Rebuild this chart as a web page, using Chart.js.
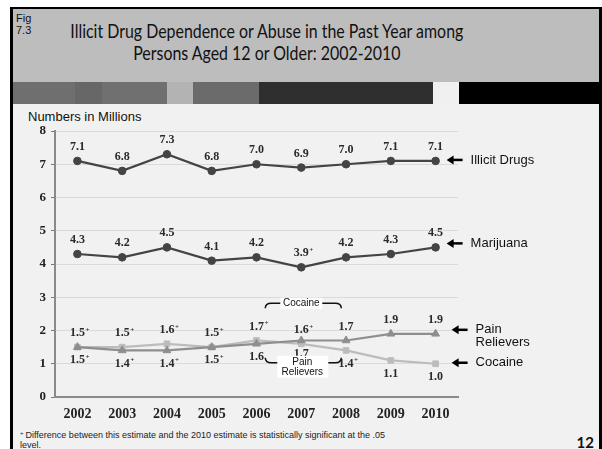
<!DOCTYPE html>
<html>
<head>
<meta charset="utf-8">
<script src="https://cdn.jsdelivr.net/npm/chart.js@4.4.1/dist/chart.umd.min.js"></script>
<style>
  html, body { margin: 0; padding: 0; background: #ffffff; }
  #page { position: relative; width: 602px; height: 449px; overflow: hidden; font-family: "Liberation Sans", Arial, sans-serif; }
  #frame { position: absolute; left: 10px; top: 7px; width: 586px; height: 442px; border-top: 2px solid #000; border-left: 3px solid #000; border-right: 3px solid #000; background: #f1f1f1; }
  #header { position: absolute; left: 13px; top: 9px; width: 586px; height: 73px; background: #bdbdbd; }
  .band { position: absolute; top: 82px; height: 22px; }
  #fig { position: absolute; left: 16px; top: 12px; font-size: 11px; line-height: 12px; color: #111; }
  #title { position: absolute; left: -133px; width: 800px; top: 19px; text-align: center; font-family: Lato, "Noto Sans", sans-serif; font-size: 20px; line-height: 22px; color: #111; white-space: nowrap; }
  #title span { display: inline-block; transform-origin: 50% 50%; }
  #units { position: absolute; left: 28px; top: 109px; font-size: 13px; color: #111; }
  #note { position: absolute; left: 20px; top: 428px; font-size: 9px; line-height: 10px; color: #222; white-space: nowrap; }
  #note sup { font-size: 6px; vertical-align: 3px; margin-right: 2px; }
  #pageno { position: absolute; right: 8px; top: 433px; font-family: Lato, "Noto Sans", sans-serif; font-weight: bold; font-size: 15px; color: #111; }
  #chart { position: absolute; left: 0; top: 0; }
</style>
</head>
<body>
<div id="page">
  <div id="frame"></div>
  <div id="header"></div>
  <div class="band" style="left:13px;width:62px;background:#6f6f6f"></div>
  <div class="band" style="left:75px;width:27px;background:#676767"></div>
  <div class="band" style="left:102px;width:65px;background:#707070"></div>
  <div class="band" style="left:167px;width:26px;background:#b3b3b3"></div>
  <div class="band" style="left:193px;width:66px;background:#6b6b6b"></div>
  <div class="band" style="left:259px;width:174px;background:#2f2f2f"></div>
  <div class="band" style="left:433px;width:26px;background:#f0f0f0"></div>
  <div class="band" style="left:459px;width:143px;background:#000000"></div>
  <div id="fig">Fig<br>7.3</div>
  <div id="title"><span id="t1">Illicit Drug Dependence or Abuse in the Past Year among</span><br><span id="t2">Persons Aged 12 or Older: 2002-2010</span></div>
  <div id="units">Numbers in Millions</div>
  <div id="note"><sup>+</sup>Difference between this estimate and the 2010 estimate is statistically significant at the .05<br>level.</div>
  <div id="pageno">12</div>
  <canvas id="chart" width="602" height="449"></canvas>
</div>
<script>
// Survey years
const years = ['2002', '2003', '2004', '2005', '2006', '2007', '2008', '2009', '2010'];

// Numbers in millions
const illicitDrugs  = [7.1, 6.8, 7.3, 6.8, 7.0, 6.9, 7.0, 7.1, 7.1];
const marijuana     = [4.3, 4.2, 4.5, 4.1, 4.2, 3.9, 4.2, 4.3, 4.5];
const painRelievers = [1.5, 1.4, 1.4, 1.5, 1.6, 1.7, 1.7, 1.9, 1.9];
const cocaine       = [1.5, 1.5, 1.6, 1.5, 1.7, 1.6, 1.4, 1.1, 1.0];

// 1 = differs significantly from the 2010 estimate (marked with +)
const illicitSig  = [0, 0, 0, 0, 0, 0, 0, 0, 0];
const marijuanaSig = [0, 0, 0, 0, 0, 1, 0, 0, 0];
const painSig     = [1, 1, 1, 1, 0, 0, 0, 0, 0];
const cocaineSig  = [1, 1, 1, 1, 1, 1, 1, 0, 0];

// Y axis ticks
const yTicks = [0, 1, 2, 3, 4, 5, 6, 7, 8];

const SERIF = '"Liberation Serif", "Times New Roman", serif';
const SANS = '"Liberation Sans", Arial, sans-serif';

// Squeeze the heading lines to the slide's condensed title width
(function fitTitle() {
  const t1 = document.getElementById('t1');
  const t2 = document.getElementById('t2');
  const k = 393 / t1.getBoundingClientRect().width;
  t1.style.transform = 'scaleX(' + k + ')';
  t2.style.transform = 'scaleX(' + k + ')';
})();

// Value labels above/below each point, with a small superscript + where flagged
const valueLabels = {
  id: 'valueLabels',
  afterDatasetsDraw(chart) {
    const ctx = chart.ctx;
    ctx.save();
    chart.data.datasets.forEach((ds, di) => {
      const meta = chart.getDatasetMeta(di);
      meta.data.forEach((pt, i) => {
        const above = ds.labelAbove[i];
        const y = above ? pt.y - 14 : pt.y + 13;
        const txt = ds.data[i].toFixed(1);
        ctx.font = 'bold 12px ' + SERIF;
        ctx.fillStyle = '#2a2a2a';
        ctx.textBaseline = 'middle';
        ctx.textAlign = 'center';
        ctx.fillText(txt, pt.x, y);
        if (ds.sig[i]) {
          const w = ctx.measureText(txt).width;
          ctx.font = 'bold 7px ' + SERIF;
          ctx.textAlign = 'left';
          ctx.fillText('+', pt.x + w / 2 + 0.5, y - 3);
        }
      });
    });
    ctx.restore();
  }
};

// Arrow and series name to the right of each line's last point
const seriesTags = {
  id: 'seriesTags',
  afterDatasetsDraw(chart) {
    const ctx = chart.ctx;
    ctx.save();
    chart.data.datasets.forEach((ds, di) => {
      const meta = chart.getDatasetMeta(di);
      const last = meta.data[meta.data.length - 1];
      const tip = last.x + ds.tagGap;
      const y = last.y + ds.tagDy;
      ctx.fillStyle = '#000';
      ctx.strokeStyle = '#000';
      ctx.lineWidth = 2.5;
      ctx.beginPath();
      ctx.moveTo(tip + 5, y);
      ctx.lineTo(tip + 16, y);
      ctx.stroke();
      ctx.beginPath();
      ctx.moveTo(tip, y);
      ctx.lineTo(tip + 7, y - 4.5);
      ctx.lineTo(tip + 7, y + 4.5);
      ctx.closePath();
      ctx.fill();
      ctx.font = '13px ' + SANS;
      ctx.fillStyle = '#111';
      ctx.textAlign = 'left';
      ctx.textBaseline = 'middle';
      ds.tagLines.forEach((ln, k) => ctx.fillText(ln, tip + 24, y + k * 13));
    });
    ctx.restore();
  }
};

// Bracketed callouts naming the crossing lines at 2007
const crossCallouts = {
  id: 'crossCallouts',
  afterDraw(chart) {
    const ctx = chart.ctx;
    const xs = chart.scales.x, ys = chart.scales.y;
    const cx = xs.getPixelForValue(years.indexOf('2007')) + 1;
    ctx.save();
    ctx.strokeStyle = '#111';
    ctx.lineWidth = 1.5;

    // upper bracket: Cocaine
    let y = ys.getPixelForValue(2.82);
    ctx.beginPath();
    ctx.moveTo(cx - 37, y + 5);
    ctx.quadraticCurveTo(cx - 37, y, cx - 31, y);
    ctx.lineTo(cx + 33, y);
    ctx.quadraticCurveTo(cx + 39, y, cx + 39, y + 5);
    ctx.stroke();
    ctx.fillStyle = '#ffffff';
    ctx.fillRect(cx - 22, y - 5.5, 42, 11);
    ctx.fillStyle = '#111';
    ctx.font = '10px ' + SANS;
    ctx.textAlign = 'center';
    ctx.textBaseline = 'middle';
    ctx.fillText('Cocaine', cx - 1, y);

    // lower bracket: Pain Relievers
    y = ys.getPixelForValue(1.03);
    ctx.beginPath();
    ctx.moveTo(cx - 37, y - 5);
    ctx.quadraticCurveTo(cx - 37, y, cx - 31, y);
    ctx.lineTo(cx + 33, y);
    ctx.quadraticCurveTo(cx + 39, y, cx + 39, y - 5);
    ctx.stroke();
    ctx.fillStyle = '#ffffff';
    ctx.fillRect(cx - 25, y - 7, 51, 22);
    ctx.fillStyle = '#111';
    ctx.fillText('Pain', cx, y - 1);
    ctx.fillText('Relievers', cx, y + 9);
    ctx.restore();
  }
};

new Chart(document.getElementById('chart'), {
  type: 'line',
  data: {
    labels: years,
    datasets: [
      {
        label: 'Illicit Drugs', data: illicitDrugs, sig: illicitSig,
        labelAbove: [true, true, true, true, true, true, true, true, true],
        tagLines: ['Illicit Drugs'], tagGap: 11, tagDy: -1,
        borderColor: '#444444', backgroundColor: '#444444',
        borderWidth: 2.2, pointStyle: 'circle', pointRadius: 3.8, pointBorderWidth: 1, tension: 0
      },
      {
        label: 'Marijuana', data: marijuana, sig: marijuanaSig,
        labelAbove: [true, true, true, true, true, true, true, true, true],
        tagLines: ['Marijuana'], tagGap: 11, tagDy: -4,
        borderColor: '#444444', backgroundColor: '#444444',
        borderWidth: 2.2, pointStyle: 'circle', pointRadius: 3.8, pointBorderWidth: 1, tension: 0
      },
      {
        label: 'Pain Relievers', data: painRelievers, sig: painSig,
        labelAbove: [false, false, false, false, false, false, true, true, true],
        tagLines: ['Pain', 'Relievers'], tagGap: 16, tagDy: -4,
        borderColor: '#8e8e8e', backgroundColor: '#8e8e8e',
        borderWidth: 2.2, pointStyle: 'triangle', pointRadius: 4.5, pointBorderWidth: 1, tension: 0
      },
      {
        label: 'Cocaine', data: cocaine, sig: cocaineSig,
        labelAbove: [true, true, true, true, true, true, false, false, false],
        tagLines: ['Cocaine'], tagGap: 16, tagDy: -1,
        borderColor: '#bcbcbc', backgroundColor: '#bcbcbc',
        borderWidth: 2.2, pointStyle: 'rect', pointRadius: 4, pointBorderWidth: 1, tension: 0
      }
    ]
  },
  options: {
    responsive: false,
    animation: false,
    events: [],
    layout: { padding: { left: 0, top: 131, right: 144, bottom: 22 } },
    plugins: { legend: { display: false }, tooltip: { enabled: false }, title: { display: false } },
    scales: {
      x: {
        offset: true,
        afterFit: (s) => { s.height = 30; },
        grid: { display: false, drawTicks: false },
        border: { display: true, color: '#8a8a8a', width: 2 },
        ticks: { padding: 9, color: '#222', font: { family: SERIF, size: 14, weight: 'bold' } }
      },
      y: {
        min: 0, max: 8,
        afterFit: (s) => { s.width = 55; },
        afterBuildTicks: (s) => { s.ticks = yTicks.map(v => ({ value: v })); },
        grid: { color: '#dadada', lineWidth: 1, tickLength: 4, tickColor: '#777', drawTicks: true },
        border: { display: true, color: '#8a8a8a', width: 2 },
        ticks: { padding: 5, color: '#222', font: { family: SERIF, size: 13, weight: 'bold' } }
      }
    }
  },
  plugins: [valueLabels, seriesTags, crossCallouts]
});
</script>
</body>
</html>
